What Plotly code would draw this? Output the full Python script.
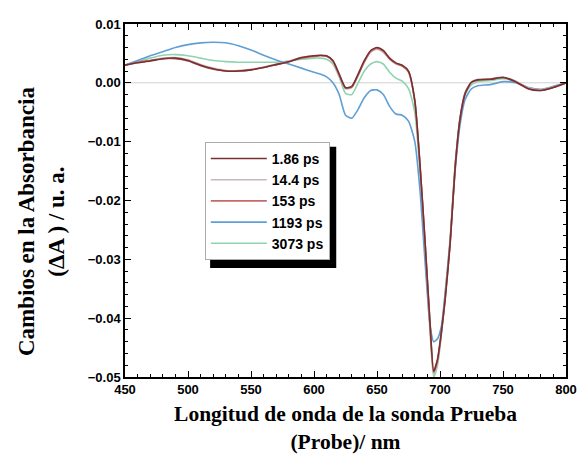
import plotly.graph_objects as go

wavelength = [450, 460, 470, 480, 490, 500, 510, 520, 530, 540, 550, 560, 570, 580, 590, 600,
              605, 610, 615, 620, 625, 630, 635, 640, 645, 650, 655, 660, 665, 670, 675, 680,
              684, 688, 692, 695, 698, 701, 704, 708, 712, 716, 720, 725, 730, 740, 750, 760,
              770, 780, 790, 800]

s_186 = [0.0030, 0.0034, 0.0037, 0.0041, 0.0042, 0.0038, 0.0030, 0.0024, 0.0020, 0.0020, 0.0022,
         0.0026, 0.0031, 0.0036, 0.0043, 0.0046, 0.0047, 0.0046, 0.0038, 0.0015, -0.0008, -0.0006,
         0.0015, 0.0038, 0.0055, 0.0060, 0.0055, 0.0042, 0.0034, 0.0030, 0.0020, -0.0030, -0.0135,
         -0.0265, -0.0405, -0.0490, -0.0470, -0.0425, -0.0370, -0.0275, -0.0145, -0.0060, -0.0018,
         0.0001, 0.0005, 0.0006, 0.0009, 0.0002, -0.0010, -0.0013, -0.0008, 0.0000]

s_144 = [0.0030, 0.0034, 0.0038, 0.0042, 0.0043, 0.0039, 0.0031, 0.0025, 0.0021, 0.0021, 0.0023,
         0.0027, 0.0032, 0.0037, 0.0043, 0.0046, 0.0047, 0.0045, 0.0036, 0.0012, -0.0010, -0.0008,
         0.0012, 0.0035, 0.0052, 0.0057, 0.0052, 0.0040, 0.0032, 0.0028, 0.0018, -0.0032, -0.0138,
         -0.0268, -0.0410, -0.0495, -0.0475, -0.0428, -0.0368, -0.0272, -0.0142, -0.0058, -0.0016,
         0.0002, 0.0006, 0.0007, 0.0010, 0.0003, -0.0009, -0.0012, -0.0007, 0.0000]

s_153 = [0.0030, 0.0035, 0.0038, 0.0041, 0.0041, 0.0037, 0.0029, 0.0023, 0.0020, 0.0020, 0.0022,
         0.0026, 0.0031, 0.0036, 0.0042, 0.0045, 0.0046, 0.0045, 0.0037, 0.0013, -0.0009, -0.0007,
         0.0013, 0.0036, 0.0054, 0.0059, 0.0054, 0.0041, 0.0033, 0.0029, 0.0019, -0.0031, -0.0136,
         -0.0266, -0.0408, -0.0492, -0.0472, -0.0426, -0.0369, -0.0273, -0.0143, -0.0059, -0.0017,
         0.0001, 0.0005, 0.0006, 0.0009, 0.0002, -0.0010, -0.0013, -0.0008, 0.0000]

s_1193 = [0.0030, 0.0038, 0.0046, 0.0053, 0.0060, 0.0065, 0.0068, 0.0069, 0.0068, 0.0063, 0.0056,
          0.0047, 0.0039, 0.0032, 0.0025, 0.0018, 0.0015, 0.0010, 0.0000, -0.0020, -0.0055, -0.0060,
          -0.0045, -0.0025, -0.0013, -0.0012, -0.0020, -0.0040, -0.0053, -0.0055, -0.0065, -0.0100,
          -0.0180, -0.0300, -0.0410, -0.0440, -0.0435, -0.0415, -0.0360, -0.0270, -0.0150, -0.0070,
          -0.0028, -0.0010, -0.0005, -0.0003, 0.0002, 0.0000, -0.0008, -0.0011, -0.0006, 0.0000]

s_3073 = [0.0030, 0.0036, 0.0042, 0.0047, 0.0048, 0.0046, 0.0042, 0.0038, 0.0036, 0.0035, 0.0035,
          0.0035, 0.0035, 0.0037, 0.0040, 0.0042, 0.0042, 0.0040, 0.0032, 0.0010, -0.0018, -0.0020,
          0.0000, 0.0020, 0.0032, 0.0036, 0.0032, 0.0018, 0.0008, 0.0003, -0.0010, -0.0050, -0.0150,
          -0.0280, -0.0420, -0.0500, -0.0480, -0.0430, -0.0360, -0.0265, -0.0140, -0.0060, -0.0020,
          -0.0003, 0.0002, 0.0004, 0.0007, 0.0002, -0.0008, -0.0012, -0.0007, 0.0000]

series_names = ["1.86 ps", "14.4 ps", "153 ps", "1193 ps", "3073 ps"]
series_values = [s_186, s_144, s_153, s_1193, s_3073]
series_colors = ["#7a3030", "#c9b8bb", "#c46a6a", "#5f9fd6", "#8fd3b0"]

fig = go.Figure()

# zero reference line
fig.add_trace(go.Scatter(x=[wavelength[0], wavelength[-1]], y=[0, 0], mode="lines",
                         line=dict(color="#d0d0d0", width=1), showlegend=False,
                         hoverinfo="skip"))

draw_order = [4, 3, 1, 2, 0]
for i in draw_order:
    fig.add_trace(go.Scatter(x=wavelength, y=series_values[i], mode="lines",
                             name=series_names[i], legendrank=i + 1,
                             line=dict(color=series_colors[i], width=1.6, shape="spline",
                                       smoothing=0.6)))

axis_common = dict(showline=True, linecolor="black", linewidth=1.5, mirror="ticks",
                   ticks="inside", ticklen=6, tickwidth=1.2, tickcolor="black",
                   showgrid=False, zeroline=False,
                   tickfont=dict(family="Liberation Sans, Arial", size=13, color="black",
                                 weight="bold"))

fig.update_xaxes(range=[450, 800], dtick=50, tick0=450,
                 minor=dict(dtick=10, ticks="inside", ticklen=3, tickcolor="black"),
                 title=dict(text="Longitud de onda de la sonda Prueba<br>(Probe)/ nm",
                            font=dict(family="Liberation Serif, Times New Roman", size=21.5,
                                      color="black", weight="bold"), standoff=10),
                 **axis_common)
fig.update_yaxes(range=[-0.05, 0.01], dtick=0.01, tickformat=".2f",
                 minor=dict(dtick=0.002, ticks="inside", ticklen=3, tickcolor="black"),
                 **axis_common)

fig.add_annotation(text="Cambios en la Absorbancia<br>(ΔA ) / u. a.",
                   xref="paper", yref="paper", x=-0.188, y=0.442, textangle=-90,
                   showarrow=False, xanchor="center", yanchor="middle",
                   font=dict(family="Liberation Serif, Times New Roman", size=23,
                             color="black", weight="bold"))

fig.update_layout(
    width=586, height=475,
    margin=dict(l=117, r=28, t=9, b=106),
    paper_bgcolor="white", plot_bgcolor="white",
    legend=dict(x=0.181, y=0.666, xanchor="left", yanchor="top",
                bgcolor="white", bordercolor="#aaaaaa", borderwidth=1,
                font=dict(family="Liberation Sans, Arial", size=14, color="black",
                          weight="bold"),
                itemwidth=56, tracegroupgap=0),
    shapes=[
        dict(type="rect", xref="paper", yref="paper", x0=0.193, x1=0.479, y0=0.309, y1=0.652,
             fillcolor="black", line=dict(width=0), layer="above"),
    ],
)

fig.write_html("out.html")
